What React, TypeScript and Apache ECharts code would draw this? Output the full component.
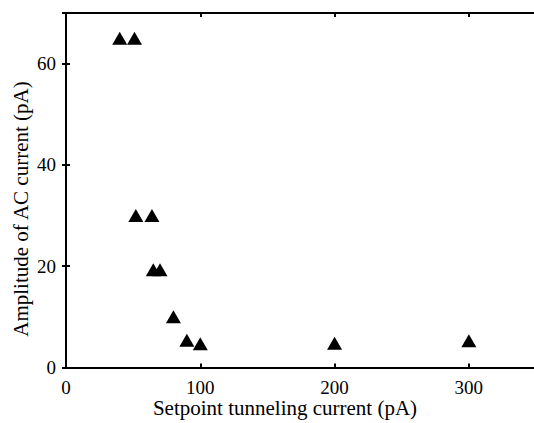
import React, { useEffect, useRef } from "react";
import * as echarts from "echarts";

const setpointCurrent = [40, 51, 52, 64, 65, 70, 80, 90, 100, 200, 300];
const acAmplitude = [65, 65, 30, 30, 19.3, 19.3, 10, 5.4, 4.7, 4.8, 5.3];
const xTickLabels = [0, 100, 200, 300];
const yTickLabels = [0, 20, 40, 60];
const xTitle = "Setpoint tunneling current (pA)";
const yTitle = "Amplitude of AC current (pA)";

const FONT = "Liberation Serif";

export default function App() {
  const ref = useRef<HTMLDivElement>(null);
  useEffect(() => {
    if (!ref.current) return;
    const chart = echarts.init(ref.current, undefined, { renderer: "svg" });
    const axisLine = { show: true, onZero: false, lineStyle: { color: "#000", width: 2 } };
    const axisTick = { show: true, inside: true, length: 4, lineStyle: { color: "#000", width: 2 } };
    const xFmt = (v: number) => (xTickLabels.includes(v) ? String(v) : "");
    const yFmt = (v: number) => (yTickLabels.includes(v) ? String(v) : "");
    chart.setOption({
      animation: false,
      backgroundColor: "#fff",
      textStyle: { fontFamily: FONT },
      grid: { left: 66, top: 13, width: 470, height: 354.5, containLabel: false, outerBoundsMode: "none" },
      xAxis: [
        {
          type: "value", position: "bottom", min: 0, max: 350, interval: 100,
          axisLine, axisTick, splitLine: { show: false },
          axisLabel: { color: "#000", fontFamily: FONT, fontSize: 19, margin: 10, formatter: xFmt, showMaxLabel: false },
        },
        {
          type: "value", position: "top", min: 0, max: 350, interval: 100,
          axisLine, axisTick, splitLine: { show: false }, axisLabel: { show: false },
        },
      ],
      yAxis: [
        {
          type: "value", position: "left", min: 0, max: 70, interval: 20,
          axisLine, axisTick, splitLine: { show: false },
          axisLabel: { color: "#000", fontFamily: FONT, fontSize: 19, margin: 10, formatter: yFmt, showMaxLabel: false },
        },
        {
          type: "value", position: "right", min: 0, max: 70, interval: 20,
          axisLine: { show: false }, axisTick, splitLine: { show: false }, axisLabel: { show: false },
        },
      ],
      graphic: [
        {
          type: "text", x: 285, y: 408,
          style: { text: xTitle, fill: "#000", fontFamily: FONT, fontSize: 21, textAlign: "center", textVerticalAlign: "middle" },
        },
        {
          type: "text", x: 21, y: 209, rotation: Math.PI / 2,
          style: { text: yTitle, fill: "#000", fontFamily: FONT, fontSize: 21, textAlign: "center", textVerticalAlign: "middle" },
        },
      ],
      series: [
        {
          type: "scatter",
          data: setpointCurrent.map((x, i) => [x, acAmplitude[i]]),
          symbol: "triangle",
          symbolSize: [15, 13],
          itemStyle: { color: "#000", opacity: 1 },
        },
      ],
    });
    return () => chart.dispose();
  }, []);
  return (
    <div
      ref={ref}
      style={{ position: "fixed", left: 0, top: 0, width: 534, height: 423 }}
    />
  );
}
